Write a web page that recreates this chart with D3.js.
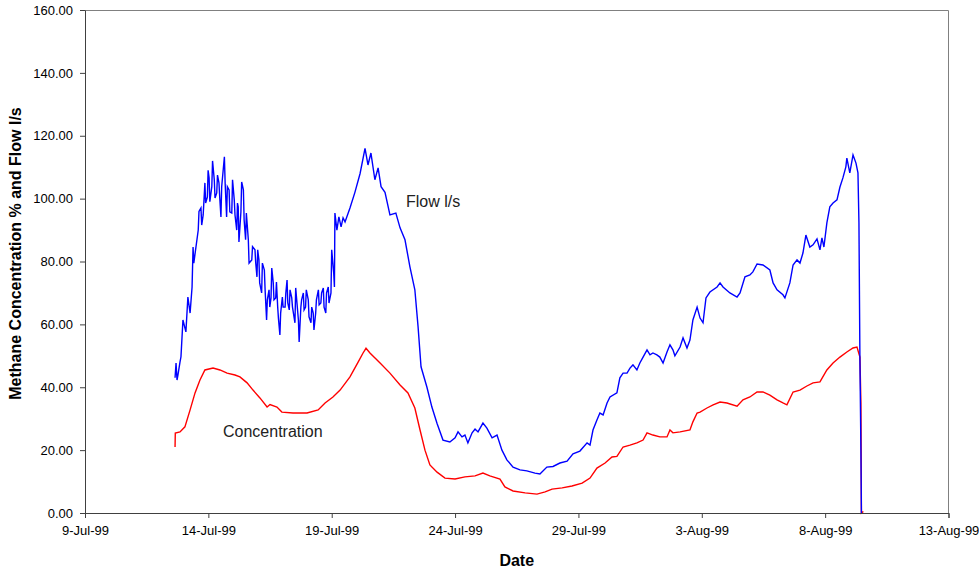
<!DOCTYPE html>
<html>
<head>
<meta charset="utf-8">
<script src="https://cdn.jsdelivr.net/npm/d3@7"></script>
<style>
  body { margin: 0; background: #fff; }
  svg text { font-family: "Liberation Sans", Arial, sans-serif; }
</style>
</head>
<body>
<svg id="chart" width="979" height="568"></svg>
<script>
// days are counted in July 1999 (32 = 1-Aug-99)
var flowDay = [12.65, 12.69, 12.73, 12.77, 12.85, 12.89, 12.97, 13.09, 13.17, 13.26, 13.34,
  13.38, 13.41, 13.59, 13.62, 13.70, 13.73, 13.79, 13.86, 13.89, 13.96, 13.99, 14.03, 14.06, 14.14, 14.17,
  14.24, 14.27, 14.34, 14.37, 14.43, 14.46, 14.51, 14.54, 14.65, 14.68, 14.74, 14.77, 14.84, 14.87,
  14.95, 14.98, 15.05, 15.08, 15.15, 15.18, 15.21, 15.24, 15.32, 15.35, 15.42, 15.45, 15.51, 15.54,
  15.62, 15.65, 15.76, 15.79, 15.89, 15.92, 15.97, 16.00, 16.05, 16.08, 16.16, 16.19, 16.27, 16.30,
  16.36, 16.39, 16.46, 16.49, 16.54, 16.57, 16.63, 16.66, 16.73, 16.76, 16.81, 16.84, 16.90, 16.93,
  17.00, 17.03, 17.11, 17.14, 17.19, 17.22, 17.28, 17.31, 17.38, 17.41, 17.51, 17.54, 17.65, 17.68,
  17.75, 17.78, 17.85, 17.88, 17.94, 17.97, 18.05, 18.08, 18.16, 18.19, 18.25, 18.28, 18.35, 18.38,
  18.46, 18.49, 18.56, 18.59, 18.66, 18.69, 18.76, 18.79, 18.86, 18.89, 18.97, 19.00, 19.08, 19.11,
  19.13, 19.21, 19.29, 19.38, 19.46, 19.54, 19.74, 19.94, 20.15, 20.35, 20.47, 20.59, 20.75, 20.88, 21.00, 21.16, 21.36, 21.60,
  21.77, 21.97, 22.17, 22.37, 22.50, 22.62, 22.86, 23.06, 23.27, 23.51, 23.79, 24.00, 24.12, 24.28, 24.40, 24.52, 24.69, 24.81, 24.93, 25.13,
  25.29, 25.50, 25.70, 25.90, 26.10, 26.35, 26.63, 26.91, 27.24, 27.44, 27.72, 27.97, 28.25, 28.54, 28.78, 29.06, 29.35, 29.47, 29.59, 29.75,
  29.87, 30.00, 30.16, 30.28, 30.56, 30.68, 30.81, 30.97, 31.09, 31.21, 31.37, 31.49, 31.62, 31.78, 31.90, 32.02, 32.18, 32.30, 32.43, 32.59,
  32.71, 32.83, 32.91, 33.12, 33.24, 33.40, 33.52, 33.64, 33.81, 33.93, 34.05, 34.17, 34.33, 34.62, 34.74, 34.86, 35.14, 35.43, 35.55, 35.75,
  35.95, 36.07, 36.24, 36.48, 36.76, 36.89, 37.05, 37.29, 37.37, 37.57, 37.70, 37.86, 37.98, 38.10, 38.22, 38.38, 38.51, 38.67, 38.79, 38.87,
  38.95, 39.07, 39.19, 39.32, 39.48, 39.60, 39.72, 39.84, 39.88, 40.00, 40.13, 40.25, 40.33, 40.37, 40.41, 40.45, 40.47];
var flowValue = [43, 47.7, 42.3, 44, 48, 49.7, 61.4, 57.6, 68.7, 63.6, 71.9,
  84.6, 79.5, 90, 95.9, 97, 91.6, 94.8, 105, 98.6, 100.5, 109, 106.6, 99, 103.8, 112,
  106, 100.2, 101.8, 107.5, 105, 100.5, 94.2, 103.8, 113.3, 105, 94.2, 103.8, 102.8, 95.8,
  95.4, 106, 99.6, 94.8, 90, 98.6, 97.4, 86.2, 95.8, 105.3, 102.8, 93.2, 86.9, 95.4,
  86.9, 79.5, 80.5, 84.7, 83.7, 79.5, 75.1, 83.7, 80.5, 73.2, 70, 79.5, 77.3, 71,
  61.4, 67.8, 71, 65.5, 68.4, 77.9, 73.2, 67.8, 68.4, 73.5, 65.5, 62, 56.6, 63.6,
  68.7, 65.5, 65.5, 70, 74.1, 66.8, 64.6, 71, 68.4, 65.5, 60.5, 71.6, 61.4, 54.4,
  65.5, 67.8, 70, 64.6, 65.5, 71, 67.8, 62.4, 60.5, 65.5, 63.6, 58.2, 63.6, 67.8,
  71, 66.2, 66.8, 70, 71.6, 65.5, 63.6, 70, 71.9, 66.8, 70, 83.7, 76.4, 71.9,
  95.4, 90, 94.2, 91, 93.9, 92.6, 97, 102, 108, 116, 110.7, 114.5, 106, 109.8, 103.8, 102, 94.8, 95.4,
  90.7, 86.9, 78.3, 71, 59.3, 46.5, 40, 33.7, 28.5, 23.2, 22.6, 23.9, 25.8, 24.2, 24.8, 22.3, 25.5, 26.7, 25.8, 28.6,
  27, 23.9, 24.8, 20, 16.9, 14.6, 13.7, 13.4, 12.7, 12.4, 14.6, 14.8, 15.9, 16.5, 18.8, 19.7, 22.3, 21.6, 26.4, 29.6,
  31.8, 31.2, 35, 36.9, 38.2, 43, 44.5, 44.5, 46.1, 47.1, 45.5, 47.7, 49.6, 51.9, 50.3, 50.9, 50.3, 49.6, 47.7, 51.2,
  53.5, 51.9, 50, 52.8, 55.7, 52.5, 55, 61.4, 65.5, 62, 60.5, 68.4, 70.3, 71.9, 73.2, 71.9, 70, 68.7, 70, 75.1,
  75.7, 76.7, 79.2, 78.9, 77.3, 73.2, 71, 69.4, 68.4, 73.2, 78.9, 80.5, 79.5, 82.7, 88.4, 84.6, 85.3, 87.2, 83.7, 87.5,
  84.6, 92.3, 97.4, 98.6, 99.6, 103.7, 106.6, 110.1, 112.9, 108.2, 113.9, 111.3, 108.2, 92.3, 48.7, 20, 0];

var concDay = [12.65, 12.66, 12.85, 13.05, 13.26, 13.46, 13.66, 13.86, 14.19, 14.47, 14.76, 15.08, 15.28, 15.57, 15.81, 16.09, 16.38, 16.50, 16.78, 16.98,
  17.43, 18.00, 18.45, 18.73, 19.05, 19.34, 19.74, 20.07, 20.27, 20.39, 20.55, 20.96, 21.36, 21.77, 22.09, 22.37, 22.58, 22.78, 22.98, 23.27,
  23.59, 24.00, 24.40, 24.81, 25.13, 25.41, 25.82, 26.02, 26.35, 26.84, 27.32, 27.65, 27.93, 28.34, 28.74, 29.15, 29.47, 29.75, 30.08, 30.36,
  30.56, 30.81, 31.09, 31.37, 31.62, 31.78, 32.02, 32.30, 32.59, 32.71, 32.83, 33.12, 33.52, 33.64, 33.81, 33.93, 34.21, 34.46, 34.74, 35.02,
  35.43, 35.67, 35.95, 36.24, 36.48, 36.76, 37.05, 37.29, 37.45, 37.70, 37.98, 38.26, 38.51, 38.79, 39.07, 39.32, 39.60, 39.88, 40.13, 40.29,
  40.41, 40.45, 40.47, 40.55];
var concValue = [21, 25.4, 25.8, 27.4, 32.8, 38.2, 42.3, 45.5, 46.1, 45.5, 44.5, 43.9, 43.3, 41.4, 39.1, 36.6, 33.7, 34.5, 33.7, 32.1,
  31.8, 31.8, 32.8, 35, 36.9, 39.1, 43.3, 48, 50.9, 52.4, 50.9, 47.7, 44.5, 40.7, 38.2, 33.4, 26.4, 20, 15.3, 13,
  11.1, 10.8, 11.5, 11.8, 12.7, 11.8, 10.8, 8.3, 7, 6.4, 6, 6.7, 7.6, 8, 8.6, 9.5, 11.1, 14.3, 15.9, 17.8,
  18, 21, 21.6, 22.3, 23.2, 25.5, 24.8, 24.2, 24.2, 26.4, 25.5, 25.8, 26.4, 29, 31.8, 32.1, 33.4, 34.4, 35.3, 35,
  34, 36, 36.9, 38.5, 38.5, 37.5, 36, 35, 34.4, 38.5, 39.1, 40.4, 41.4, 41.7, 45.5, 47.7, 49.6, 51.2, 52.5, 52.8,
  49.6, 35, 0, 0.5];

var yTicks = [0, 20, 40, 60, 80, 100, 120, 140, 160];
var xTicks = ["1999-07-09", "1999-07-14", "1999-07-19", "1999-07-24", "1999-07-29", "1999-08-03", "1999-08-08", "1999-08-13"];

var svg = d3.select("#chart");
var margin = {left: 85, top: 10, right: 30.5, bottom: 55};
var width = 979 - margin.left - margin.right;
var height = 568 - margin.top - margin.bottom;

var parse = d3.timeParse("%Y-%m-%d");
var july1 = new Date(1999, 6, 1).getTime();
function toDate(d) { return new Date(july1 + (d - 1) * 864e5); }

var x = d3.scaleTime()
  .domain([parse(xTicks[0]), parse(xTicks[xTicks.length - 1])])
  .range([0, width]);
var y = d3.scaleLinear().domain([0, 160]).range([height, 0]);

var g = svg.append("g").attr("transform", "translate(" + margin.left + "," + margin.top + ")");

// top and right border of the plot area
g.append("path")
  .attr("d", "M0.5,0.5H" + width + "V" + height)
  .attr("fill", "none")
  .attr("stroke", "#808080");

var line = d3.line()
  .x(function (d) { return x(toDate(d[0])); })
  .y(function (d) { return y(d[1]); });

g.append("path")
  .datum(d3.zip(concDay, concValue))
  .attr("fill", "none")
  .attr("stroke", "#ff0000")
  .attr("stroke-width", 1.4)
  .attr("d", line);

g.append("path")
  .datum(d3.zip(flowDay, flowValue))
  .attr("fill", "none")
  .attr("stroke", "#0000ff")
  .attr("stroke-width", 1.4)
  .attr("d", line);

var yAxis = g.append("g")
  .call(d3.axisLeft(y).tickValues(yTicks).tickFormat(d3.format(".2f")).tickSize(5).tickPadding(7));
var xAxis = g.append("g")
  .attr("transform", "translate(0," + height + ")")
  .call(d3.axisBottom(x).tickValues(xTicks.map(parse)).tickFormat(d3.timeFormat("%-d-%b-%y")).tickSize(5).tickPadding(8));

svg.selectAll(".domain, .tick line").attr("stroke", "#404040");
svg.selectAll(".tick text").attr("font-size", 13).attr("fill", "#000")
  .style("font-family", "'Liberation Sans', Arial, sans-serif");

svg.append("text")
  .attr("transform", "translate(21," + (margin.top + height / 2 - 8) + ") rotate(-90)")
  .attr("text-anchor", "middle")
  .attr("font-size", 16)
  .attr("font-weight", "bold")
  .text("Methane Concentration % and Flow l/s");

svg.append("text")
  .attr("x", margin.left + width / 2)
  .attr("y", 566)
  .attr("text-anchor", "middle")
  .attr("font-size", 16)
  .attr("font-weight", "bold")
  .text("Date");

svg.append("text").attr("x", 406).attr("y", 207).attr("font-size", 16).attr("fill", "#222").text("Flow l/s");
svg.append("text").attr("x", 223).attr("y", 437).attr("font-size", 16).attr("fill", "#222").text("Concentration");
</script>
</body>
</html>
